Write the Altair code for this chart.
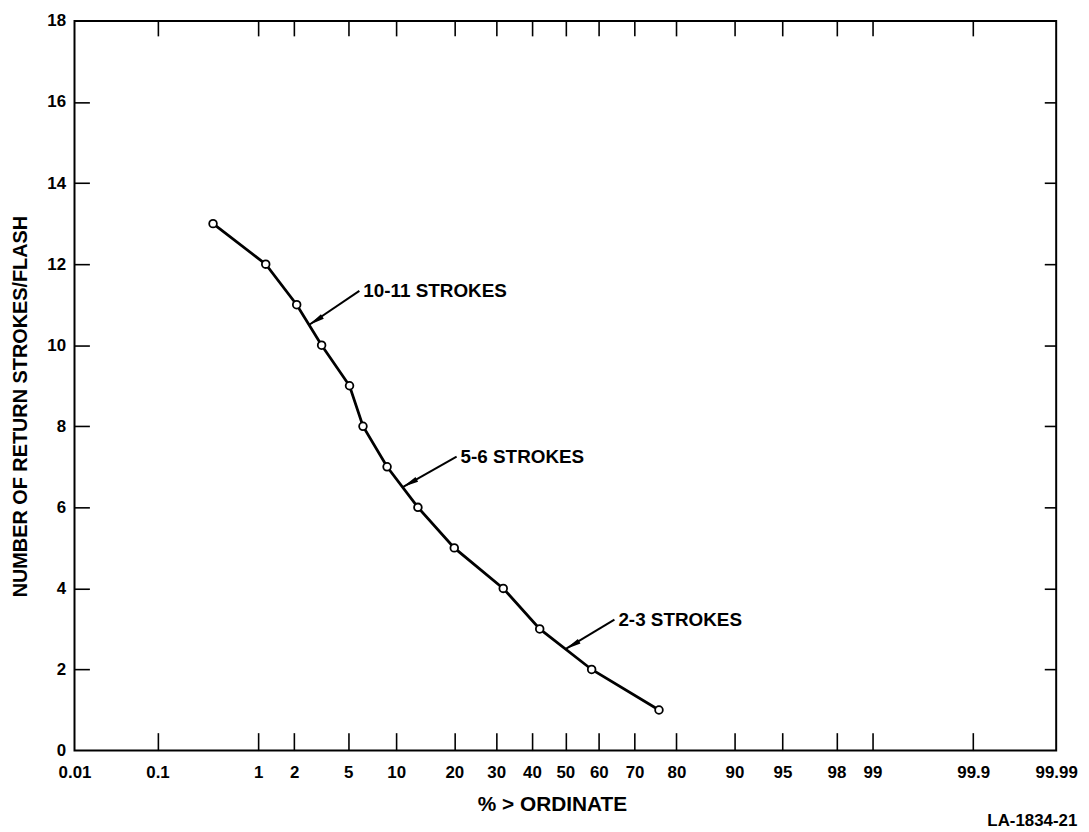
import altair as alt
import pandas as pd
from statistics import NormalDist

# ---- data ----
strokes = [13, 12, 11, 10, 9, 8, 7, 6, 5, 4, 3, 2, 1]
pct_greater = [0.38, 1.16, 2.09, 3.24, 5.1, 6.26, 8.84, 13.2, 20.0, 31.9, 42.3, 57.9, 76.1]

x_tick_labels = ["0.01", "0.1", "1", "2", "5", "10", "20", "30", "40", "50",
                 "60", "70", "80", "90", "95", "98", "99", "99.9", "99.99"]
y_tick_values = [0, 2, 4, 6, 8, 10, 12, 14, 16, 18]
y_inner_ticks = [2, 4, 6, 8, 10, 12, 14, 16]

ann_labels = ["10-11 STROKES", "5-6 STROKES", "2-3 STROKES"]
ann_start_pct = [5.93, 20.5, 64.5]
ann_start_y = [11.34, 7.25, 3.23]
ann_tip_pct = [2.6, 10.9, 50.0]
ann_tip_y = [10.5, 6.5, 2.5]
ann_angle = [237.6, 241.4, 240.0]

FONT = "Liberation Sans"

nd = NormalDist()
z_ticks = [nd.inv_cdf(float(s) / 100) for s in x_tick_labels]
z_inner = z_ticks[1:-1]
zmin, zmax = z_ticks[0], z_ticks[-1]

df = pd.DataFrame({"strokes": strokes, "pct": pct_greater})
ann = pd.DataFrame({
    "label": ann_labels,
    "start_pct": ann_start_pct,
    "start_y": ann_start_y,
    "tip_pct": ann_tip_pct,
    "tip_y": ann_tip_y,
    "angle": ann_angle,
})

xscale = alt.Scale(domain=[zmin, zmax], nice=False, zero=False)
yscale = alt.Scale(domain=[0, 18], nice=False, zero=False)

label_expr = "format(round(cumulativeNormal(datum.value) * 10000) / 100, '')"

base = alt.Chart(df).transform_calculate(z="quantileNormal(datum.pct / 100)")

line = base.mark_line(color="black", strokeWidth=2.8).encode(
    x=alt.X("z:Q", scale=xscale, axis=alt.Axis(
        orient="bottom", values=z_ticks, labelExpr=label_expr, ticks=False,
        domain=False, grid=False, title="% > ORDINATE", labelPadding=14,
        labelFlush=False, labelOverlap=False,
        labelFontSize=17, labelFont=FONT, labelFontWeight="bold", labelColor="black",
        titleFont=FONT, titleFontSize=21, titleFontWeight="bold", titleColor="black",
        titleX=481, titleY=54, titleBaseline="middle", titleAlign="center")),
    y=alt.Y("strokes:Q", scale=yscale, axis=alt.Axis(
        orient="left", values=y_tick_values, ticks=False, domain=False, grid=False,
        title="NUMBER OF RETURN STROKES/FLASH", labelPadding=9,
        labelFontSize=17, labelFont=FONT, labelFontWeight="bold", labelColor="black",
        titleFont=FONT, titleFontSize=20, titleFontWeight="bold", titleColor="black",
        titleX=-54, titleY=388, titleAngle=270, titleBaseline="middle",
        titleAlign="center")),
)

points = base.mark_point(shape="circle", fill="white", stroke="black",
                         strokeWidth=1.8, size=60, opacity=1, fillOpacity=1).encode(
    x=alt.X("z:Q", scale=xscale, axis=None),
    y=alt.Y("strokes:Q", scale=yscale, axis=None),
)

ticks_bl = base.mark_point(opacity=0).encode(
    x=alt.X("z:Q", scale=xscale, axis=alt.Axis(
        orient="bottom", values=z_inner, offset=-18, tickSize=18, tickWidth=1.6,
        tickColor="black", labels=False, domain=False, grid=False, title=None)),
    y=alt.Y("strokes:Q", scale=yscale, axis=alt.Axis(
        orient="left", values=y_inner_ticks, offset=-15, tickSize=15, tickWidth=1.6,
        tickColor="black", labels=False, domain=False, grid=False, title=None)),
)

ticks_tr = base.mark_point(opacity=0).encode(
    x=alt.X("z:Q", scale=xscale, axis=alt.Axis(
        orient="top", values=z_inner, offset=-15, tickSize=15, tickWidth=1.6,
        tickColor="black", labels=False, domain=False, grid=False, title=None)),
    y=alt.Y("strokes:Q", scale=yscale, axis=alt.Axis(
        orient="right", values=y_inner_ticks, offset=-12, tickSize=12, tickWidth=1.6,
        tickColor="black", labels=False, domain=False, grid=False, title=None)),
)

annbase = alt.Chart(ann).transform_calculate(
    zs="quantileNormal(datum.start_pct / 100)",
    zt="quantileNormal(datum.tip_pct / 100)",
)

arrows = annbase.mark_rule(color="black", strokeWidth=2).encode(
    x=alt.X("zs:Q", scale=xscale, axis=None),
    y=alt.Y("start_y:Q", scale=yscale, axis=None),
    x2="zt:Q",
    y2="tip_y:Q",
)

heads = annbase.mark_point(shape="M0,0L0.4,2.4L-0.4,2.4Z", filled=True,
                           color="black", size=180, opacity=1).encode(
    x=alt.X("zt:Q", scale=xscale, axis=None),
    y=alt.Y("tip_y:Q", scale=yscale, axis=None),
    angle=alt.Angle("angle:Q", scale=None),
)

texts = annbase.mark_text(align="left", baseline="middle", dx=4, font=FONT,
                          fontSize=19, fontWeight="bold", color="black").encode(
    x=alt.X("zs:Q", scale=xscale, axis=None),
    y=alt.Y("start_y:Q", scale=yscale, axis=None),
    text="label:N",
)

chart = alt.layer(line, points, ticks_bl, ticks_tr, arrows, heads, texts).resolve_axis(
    x="independent", y="independent"
).properties(
    width=989,
    height=735,
    autosize=alt.AutoSizeParams(type="none"),
    padding={"left": 67, "top": 10, "right": 25, "bottom": 79},
    title=alt.TitleParams(text="LA-1834-21", orient="bottom", anchor="end",
                          font=FONT, fontSize=17, fontWeight="bold", color="black",
                          offset=-1),
).configure_view(
    stroke="black", strokeWidth=2
)

chart.save("out.html", embed_options={"renderer": "svg", "actions": False})
